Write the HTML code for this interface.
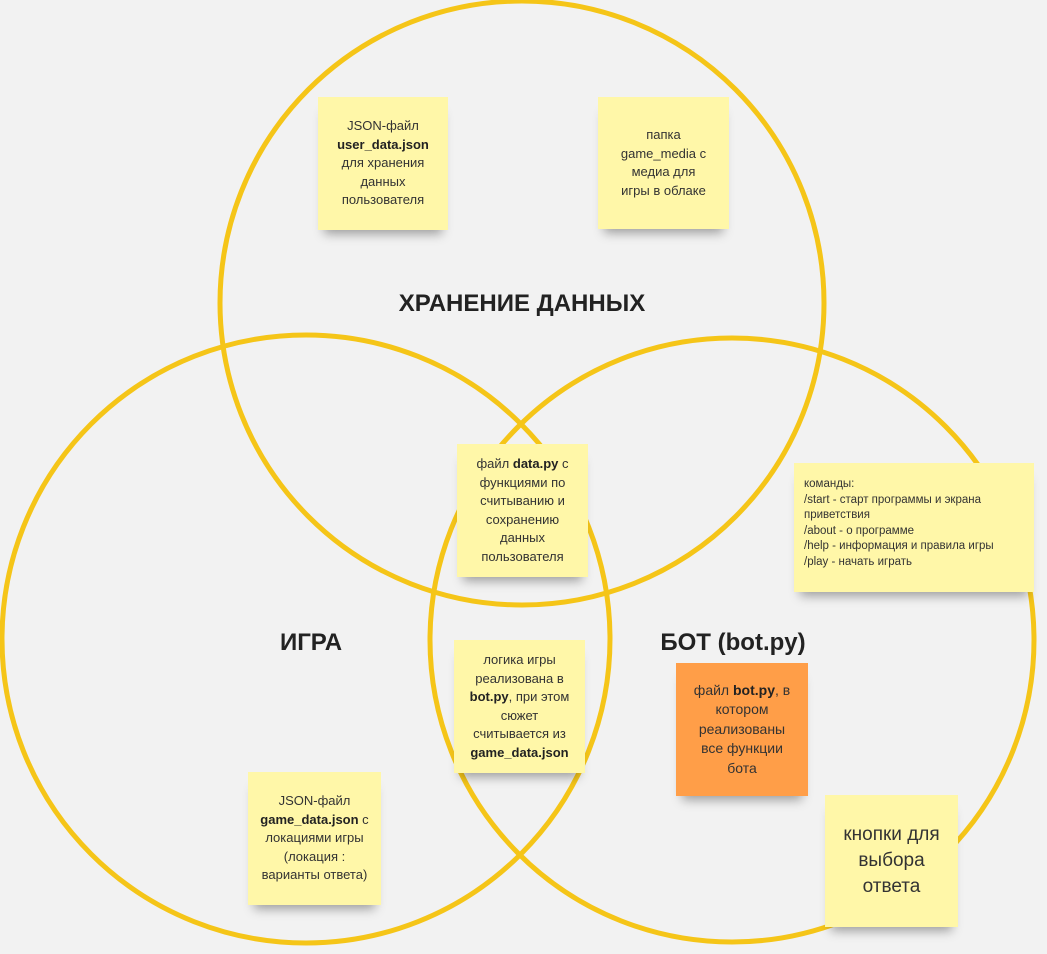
<!DOCTYPE html>
<html><head><meta charset="utf-8"><style>
body{margin:0;width:1047px;height:954px;background:#f2f2f2;position:relative;overflow:hidden;font-family:"Liberation Sans","DejaVu Sans",sans-serif}
svg{position:absolute;left:0;top:0}
.n{position:absolute;background:#fff7a8;color:#333;font-size:13px;line-height:18.5px;text-align:center;display:flex;align-items:center;justify-content:center;box-shadow:0 10px 10px -6px rgba(0,0,0,.35);box-sizing:border-box;padding:4px}
.n b{color:#222}
.t{position:absolute;font-weight:bold;font-size:24px;color:#222;transform:translate(-50%,-50%);white-space:nowrap}
</style></head><body>
<svg width="1047" height="954"><g fill="none" stroke="#f5c518" stroke-width="5">
<circle cx="522" cy="303" r="302"/>
<circle cx="306" cy="639" r="304"/>
<circle cx="732" cy="640" r="302"/>
</g></svg>
<div class="t" style="left:522px;top:304px">ХРАНЕНИЕ ДАННЫХ</div>
<div class="t" style="left:311px;top:643px">ИГРА</div>
<div class="t" style="left:733px;top:643px">БОТ (bot.py)</div>
<div class="n" style="left:318px;top:97px;width:130px;height:133px"><div>JSON-файл<br><b>user_data.json</b><br>для хранения<br>данных<br>пользователя</div></div>
<div class="n" style="left:598px;top:97px;width:131px;height:132px"><div>папка<br>game_media с<br>медиа для<br>игры в облаке</div></div>
<div class="n" style="left:457px;top:444px;width:131px;height:133px"><div>файл <b>data.py</b> с<br>функциями по<br>считыванию и<br>сохранению<br>данных<br>пользователя</div></div>
<div class="n" style="left:454px;top:640px;width:131px;height:133px"><div>логика игры<br>реализована в<br><b>bot.py</b>, при этом<br>сюжет<br>считывается из<br><b>game_data.json</b></div></div>
<div class="n" style="left:794px;top:463px;width:240px;height:129px;text-align:left;justify-content:flex-start;font-size:11.5px;line-height:15.5px;padding-left:10px;padding-bottom:12px"><div>команды:<br>/start - старт программы и экрана<br>приветствия<br>/about - о программе<br>/help - информация и правила игры<br>/play - начать играть</div></div>
<div class="n" style="left:676px;top:663px;width:132px;height:133px;background:#ff9e48;font-size:14px;line-height:19.5px"><div>файл <b>bot.py</b>, в<br>котором<br>реализованы<br>все функции<br>бота</div></div>
<div class="n" style="left:248px;top:772px;width:133px;height:133px"><div>JSON-файл<br><b>game_data.json</b> с<br>локациями игры<br>(локация :<br>варианты ответа)</div></div>
<div class="n" style="left:825px;top:795px;width:133px;height:132px;font-size:19px;line-height:26px"><div>кнопки для<br>выбора<br>ответа</div></div>
</body></html>
